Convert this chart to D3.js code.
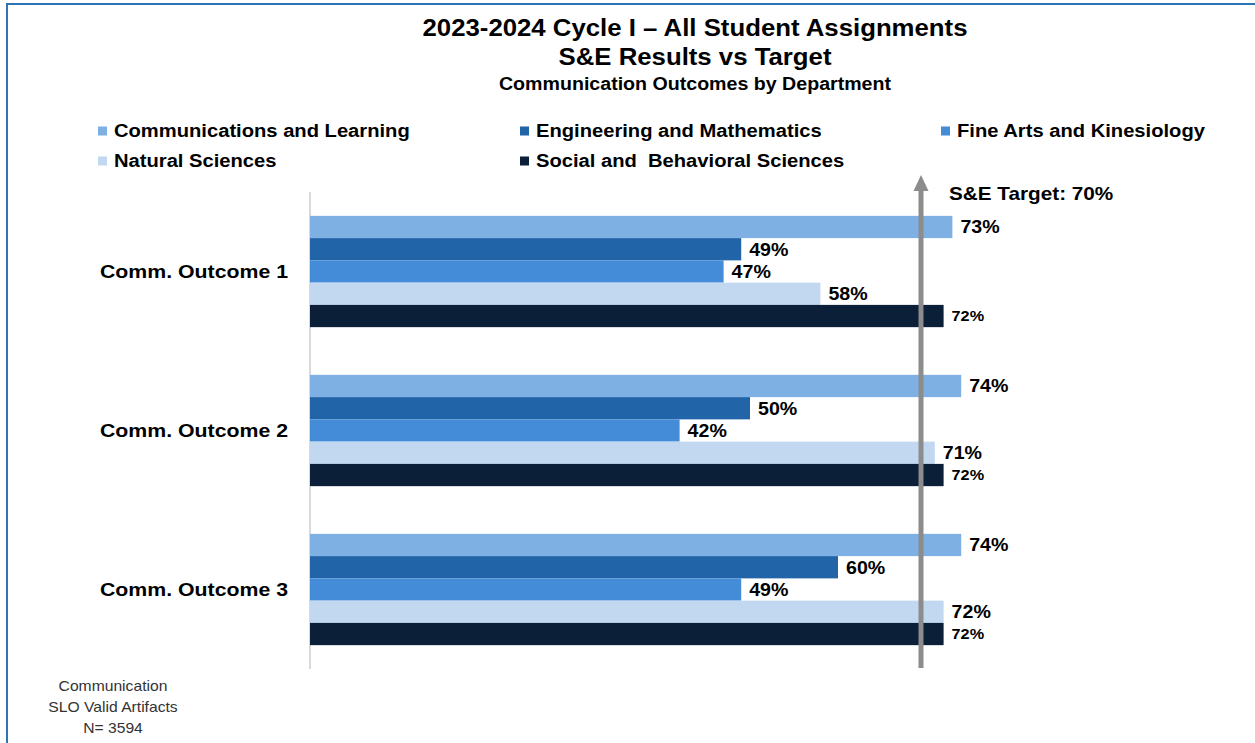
<html>
  <head>
    <script src="https://d3js.org/d3.v7.min.js"></script>
    <style>
      body { margin: 0; background: #fff; }
      text { font-family: "Liberation Sans", Arial, sans-serif; }
    </style>
  </head>
  <body>
    <div id="d3"></div>
    <script>
      // data
      let outcomes = ["Comm. Outcome 1", "Comm. Outcome 2", "Comm. Outcome 3"]
      let departments = ["Communications and Learning", "Engineering and Mathematics",
                         "Fine Arts and Kinesiology", "Natural Sciences",
                         "Social and  Behavioral Sciences"]
      let commLearning = [73, 74, 74]
      let engMath = [49, 50, 60]
      let fineArts = [47, 42, 49]
      let naturalSci = [58, 71, 72]
      let socialBehav = [72, 72, 72]
      let target = 70
      let colors = ["#7fb0e4", "#2264a8", "#448cd8", "#c2d8f0", "#0b1f38"]

      let series = [commLearning, engMath, fineArts, naturalSci, socialBehav]

      let W = 1255, H = 743
      let svg = d3.select("#d3").append("svg")
        .attr("width", W).attr("height", H)

      // the source picture is a bit wider than tall, stretch text to match
      let stretch = (sel, k) => sel.each(function () {
        this.setAttribute("textLength", this.getComputedTextLength() * (k || 1.12))
        this.setAttribute("lengthAdjust", "spacingAndGlyphs")
      })

      // frame
      svg.append("rect")
        .attr("x", 7).attr("y", 4)
        .attr("width", W + 10).attr("height", H + 10)
        .attr("fill", "none").attr("stroke", "#2e75b6").attr("stroke-width", 2)

      // titles
      let titles = [
        ["2023-2024 Cycle I \u2013 All Student Assignments", 36, 23],
        ["S&E Results vs Target", 65, 23],
        ["Communication Outcomes by Department", 90, 17.5]
      ]
      svg.selectAll(".title").data(titles).enter().append("text")
        .attr("class", "title")
        .attr("x", 695).attr("y", d => d[1])
        .attr("text-anchor", "middle")
        .attr("font-weight", "bold").attr("font-size", d => d[2])
        .text(d => d[0])
        .call(stretch)

      // legend
      let legendPos = [[114, 131], [536, 131], [957, 131], [114, 161], [536, 161]]
      let leg = svg.selectAll(".leg").data(departments).enter().append("g")
        .attr("class", "leg")
        .attr("transform", (d, i) => `translate(${legendPos[i][0]},${legendPos[i][1]})`)
      leg.append("rect")
        .attr("x", -16).attr("y", -4.5).attr("width", 9).attr("height", 9)
        .attr("fill", (d, i) => colors[i])
      leg.append("text")
        .attr("x", 0).attr("dy", "0.35em")
        .attr("font-weight", "bold").attr("font-size", 18)
        .style("white-space", "pre")
        .text(d => d)
        .call(stretch)

      // scales
      let x = d3.scaleLinear().domain([0, 100]).range([310, 1190])
      let y0 = d3.scaleBand().domain(outcomes).range([192, 669])
        .paddingInner(0.3).paddingOuter(0.15)
      let y1 = d3.scaleBand().domain(d3.range(departments.length))
        .range([0, y0.bandwidth()])

      // category axis line
      svg.append("line")
        .attr("x1", 310).attr("x2", 310).attr("y1", 192).attr("y2", 669)
        .attr("stroke", "#d9d9d9").attr("stroke-width", 2)

      svg.selectAll(".cat").data(outcomes).enter().append("text")
        .attr("class", "cat")
        .attr("x", 288).attr("y", d => y0(d) + y0.bandwidth() / 2)
        .attr("dy", "0.35em").attr("text-anchor", "end")
        .attr("font-weight", "bold").attr("font-size", 19)
        .text(d => d)
        .call(stretch)

      let groups = svg.selectAll(".grp").data(outcomes).enter().append("g")
        .attr("class", "grp")
        .attr("transform", d => `translate(0,${y0(d)})`)

      let cells = groups.selectAll(".bar")
        .data((o, oi) => series.map((s, si) => ({ v: s[oi], si: si })))
        .enter()

      cells.append("rect")
        .attr("class", "bar")
        .attr("x", x(0))
        .attr("y", d => y1(d.si))
        .attr("width", d => x(d.v) - x(0))
        .attr("height", y1.bandwidth())
        .attr("fill", d => colors[d.si])

      cells.append("text")
        .attr("x", d => x(d.v) + 8)
        .attr("y", d => y1(d.si) + y1.bandwidth() / 2)
        .attr("dy", "0.37em")
        .attr("font-weight", "bold")
        .attr("font-size", d => d.si === 4 ? 14.5 : 17.5)
        .text(d => d.v + "%")
        .call(stretch)

      // target arrow
      let tx = x(target) - 5
      svg.append("line")
        .attr("x1", tx).attr("x2", tx).attr("y1", 668).attr("y2", 188)
        .attr("stroke", "#8c8c8c").attr("stroke-width", 5)
      svg.append("path")
        .attr("d", `M${tx - 7.5},191 L${tx},175 L${tx + 7.5},191 Z`)
        .attr("fill", "#8c8c8c")
      svg.append("text")
        .attr("x", tx + 28).attr("y", 200)
        .attr("font-weight", "bold").attr("font-size", 18.5)
        .text("S&E Target: " + target + "%")
        .call(stretch)

      // footnote
      let foot = ["Communication", "SLO Valid Artifacts", "N= 3594"]
      svg.selectAll(".foot").data(foot).enter().append("text")
        .attr("class", "foot")
        .attr("x", 113).attr("y", (d, i) => 691 + i * 21)
        .attr("text-anchor", "middle")
        .attr("font-size", 14.5).attr("fill", "#333")
        .text(d => d)
        .call(stretch, 1.08)
    </script>
  </body>
</html>
